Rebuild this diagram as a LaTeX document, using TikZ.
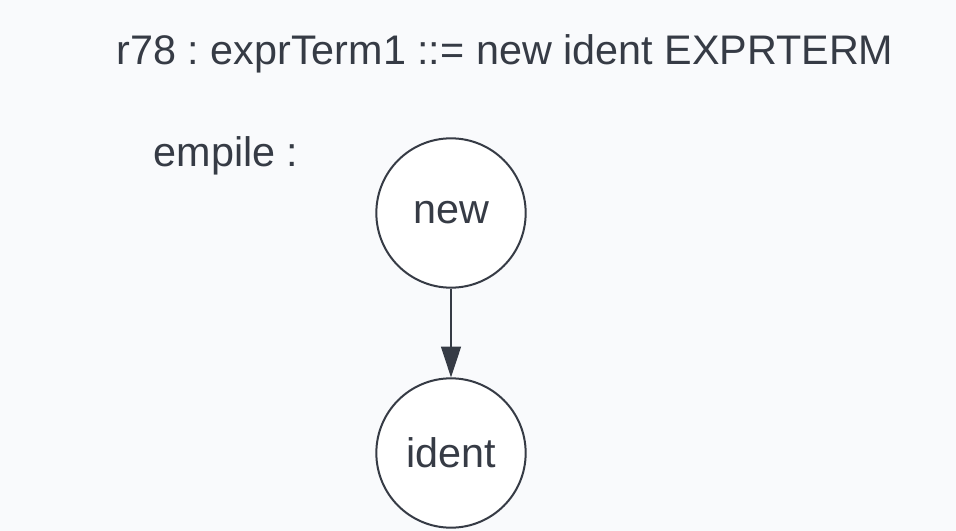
\documentclass[tikz,border=0pt]{standalone}
\usepackage{fontspec}
\setmainfont{Liberation Sans}
\usetikzlibrary{arrows.meta,positioning}
\definecolor{bgcol}{HTML}{F9FAFC}
\definecolor{inkcol}{HTML}{363B45}
\frenchspacing
\begin{document}
\begin{tikzpicture}[
  x=0.75pt, y=-0.75pt,
  label/.style={text=inkcol, font=\fontsize{31}{33}\selectfont, inner sep=0pt},
  state/.style={circle, draw=inkcol, line width=1.5pt, fill=white, minimum size=112pt, inner sep=0pt, text=inkcol, font=\fontsize{31}{33}\selectfont},
  link/.style={draw=inkcol, line width=1pt, -{Triangle[length=23pt, width=15pt]}}
]
% Background and frame
\fill[bgcol] (0,0) rectangle (956,531);
\useasboundingbox (0,0) rectangle (956,531);

% Headings
\node[label] (rule) at (505,54) {r78 : exprTerm1 ::= new ident EXPRTERM};
\node[label] (stack) at (226,156) {empile :};

% Stack nodes
\node[state] (new) at (451,213) {new};
\node[state] (ident) at (451,453) {ident};

% Connector
\draw[link] (new) -- (ident);
\end{tikzpicture}
\end{document}
